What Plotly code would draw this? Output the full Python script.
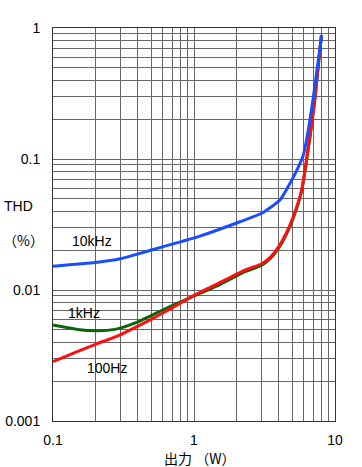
import plotly.graph_objects as go

# ---- data ----
x_10k = [0.1, 0.2, 0.3, 0.39, 0.5, 0.67, 1.1, 2.12, 3.02, 4.07, 4.9, 5.5, 5.96, 6.37, 7.0, 8.05]
y_10k = [0.0152, 0.0162, 0.0173, 0.0187, 0.0202, 0.0221, 0.0258, 0.0332, 0.0385, 0.0486, 0.068, 0.087, 0.107, 0.152, 0.29, 0.885]

x_1k = [0.1, 0.15, 0.2, 0.25, 0.3, 0.4, 0.5, 0.7, 1.0, 1.5, 2.3, 3.0, 3.5, 4.0, 4.5, 5.06, 5.8, 6.65, 7.2, 8.0]
y_1k = [0.0054, 0.0050, 0.00489, 0.00494, 0.00512, 0.0057, 0.0064, 0.0076, 0.0090, 0.0109, 0.0138, 0.0154, 0.0175, 0.0210, 0.0264, 0.0355, 0.057, 0.148, 0.285, 0.86]

x_100 = [0.1, 0.15, 0.2, 0.3, 0.4, 0.5, 0.7, 1.0, 1.5, 2.3, 3.0, 3.5, 4.0, 4.5, 5.06, 5.8, 6.65, 7.2, 8.0]
y_100 = [0.00284, 0.0034, 0.00385, 0.00455, 0.0053, 0.0060, 0.0073, 0.0091, 0.0113, 0.0142, 0.0158, 0.0179, 0.0215, 0.027, 0.0363, 0.058, 0.152, 0.29, 0.88]

x_decades = [0.1, 1, 10]
x_labels = ["0.1", "1", "10"]
y_decades = [0.001, 0.01, 0.1, 1]
y_labels = ["0.001", "0.01", "0.1", "1"]

series_names = ["10kHz", "1kHz", "100Hz"]


def log_ticks(decades, labels):
    vals, texts = [], []
    for i, d in enumerate(decades):
        vals.append(d)
        texts.append(labels[i])
        if i < len(decades) - 1:
            for m in range(2, 10):
                vals.append(d * m)
                texts.append("")
    return vals, texts


xv, xt = log_ticks(x_decades, x_labels)
yv, yt = log_ticks(y_decades, y_labels)

fig = go.Figure()
fig.add_trace(go.Scatter(x=x_1k, y=y_1k, mode="lines", name=series_names[1],
                         line=dict(color="#0b650b", width=3, shape="spline", smoothing=0.5)))
fig.add_trace(go.Scatter(x=x_100, y=y_100, mode="lines", name=series_names[2],
                         line=dict(color="#ff1010", width=3, shape="spline", smoothing=0.5)))
fig.add_trace(go.Scatter(x=x_10k, y=y_10k, mode="lines", name=series_names[0],
                         line=dict(color="#1a4dff", width=3, shape="spline", smoothing=0.5)))

font = "Liberation Sans, Arial, sans-serif"
cjk = "Noto Sans CJK JP"
W, H = 362, 467
ML, MR, MT, MB = 53, 27, 28, 46
fig.update_layout(
    width=W, height=H,
    margin=dict(l=ML, r=MR, t=MT, b=MB),
    paper_bgcolor="white", plot_bgcolor="white",
    showlegend=False,
    font=dict(family=font, size=14, color="black"),
    xaxis=dict(type="log", range=[-1, 1], tickvals=xv, ticktext=xt,
               showgrid=True, gridcolor="#666", gridwidth=1, automargin=False,
               ticks="outside", ticklen=6, tickcolor="rgba(0,0,0,0)",
               showline=True, linecolor="#333", linewidth=1, mirror=True,
               zeroline=False, tickfont=dict(size=14)),
    yaxis=dict(type="log", range=[-3, 0], tickvals=yv, ticktext=yt,
               showgrid=True, gridcolor="#666", gridwidth=1, automargin=False,
               ticks="outside", ticklen=9, tickcolor="rgba(0,0,0,0)",
               showline=True, linecolor="#333", linewidth=1, mirror=True,
               zeroline=False, tickfont=dict(size=14)),
)

annots = [
    dict(text="THD", x=2, y=206, xanchor="left", f=font),
    dict(text="（%）", x=1, y=240, xanchor="left", f=cjk),
    dict(text=series_names[0], x=70, y=241, xanchor="left", f=font),
    dict(text=series_names[1], x=66, y=313, xanchor="left", f=font),
    dict(text=series_names[2], x=85, y=368, xanchor="left", f=font),
    dict(text="出力 （W）", x=199, y=458, xanchor="center", f=cjk),
]
for a in annots:
    fig.add_annotation(text=a["text"], xref="paper", yref="paper",
                       x=(a["x"] - ML) / (W - ML - MR),
                       y=1 - (a["y"] - MT) / (H - MT - MB),
                       xanchor=a["xanchor"], yanchor="middle", showarrow=False,
                       font=dict(family=a["f"], size=14))

fig.write_html("out.html", config={"displayModeBar": False},
               post_script="document.body.style.margin='0px';")
